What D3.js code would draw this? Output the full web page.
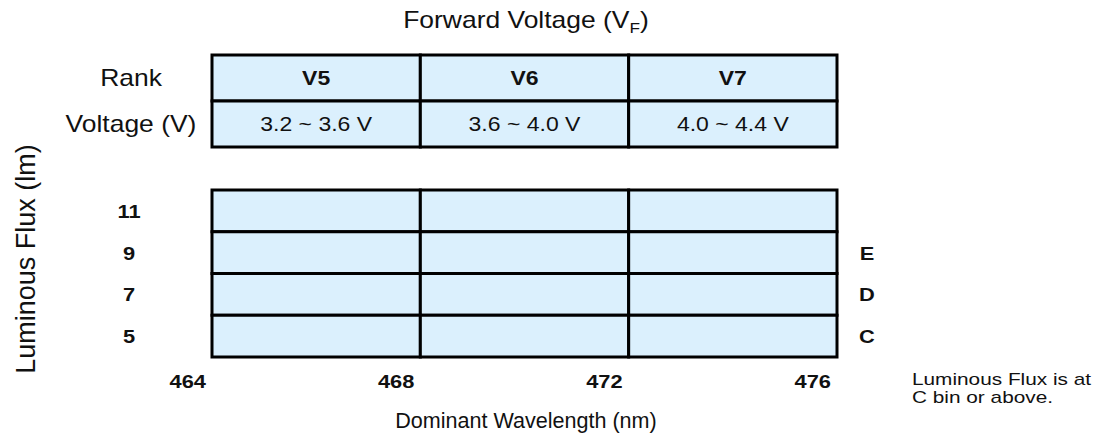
<!DOCTYPE html>
<html>
<head>
<meta charset="utf-8">
<script src="https://cdn.jsdelivr.net/npm/d3@7"></script>
<style>
  html, body { margin: 0; padding: 0; background: #fff; }
  text { font-family: "Liberation Sans", Arial, Helvetica, sans-serif; fill: #111; }
</style>
</head>
<body>
<svg id="chart" width="1099" height="437"></svg>
<script>
// ---- data ----
const voltRanks = ["V5", "V6", "V7"];
const voltRanges = ["3.2 ~ 3.6 V", "3.6 ~ 4.0 V", "4.0 ~ 4.4 V"];
const wavelengthTicks = [464, 468, 472, 476];
const fluxLevels = [11, 9, 7, 5];
const fluxBins = ["", "E", "D", "C"];
const tableRows = ["Rank", "Voltage (V)"];

// ---- layout ----
const SX = 1.15; // horizontal text stretch seen in the reference
const svg = d3.select("#chart");
const fillColor = "#dbf0fd";
const x = d3.scaleLinear().domain([464, 476]).range([212, 837]);
const yTop = d3.scaleBand().domain(tableRows).range([55, 147]);
const yGrid = d3.scaleBand().domain(fluxLevels).range([190, 357]);

function place(sel, fx, fy, sx = SX) {
  sel.attr("transform", (d, i) => `translate(${fx(d, i)},${fy(d, i)}) scale(${sx},1)`);
}

// title
const title = svg.append("text").attr("text-anchor", "middle").style("font-size", "23px");
place(title, () => 526, () => 28);
title.append("tspan").text("Forward Voltage (V");
title.append("tspan").text("F").style("font-size", "15px").attr("dy", 5);
title.append("tspan").text(")").attr("dy", -5);

// top table cells
const topCells = [];
voltRanks.forEach((r, i) => {
  topCells.push({x0: wavelengthTicks[i], x1: wavelengthTicks[i + 1], row: "Rank", text: r, bold: true});
  topCells.push({x0: wavelengthTicks[i], x1: wavelengthTicks[i + 1], row: "Voltage (V)", text: voltRanges[i], bold: false});
});
svg.append("g").selectAll("rect").data(topCells).join("rect")
  .attr("x", d => x(d.x0)).attr("y", d => yTop(d.row))
  .attr("width", d => x(d.x1) - x(d.x0)).attr("height", yTop.bandwidth())
  .attr("fill", fillColor).attr("stroke", "#000").attr("stroke-width", 3);
svg.append("g").selectAll("text").data(topCells).join("text")
  .attr("text-anchor", "middle").attr("dominant-baseline", "central")
  .style("font-size", "20px")
  .style("font-weight", d => d.bold ? "bold" : "normal")
  .text(d => d.text)
  .call(place, d => (x(d.x0) + x(d.x1)) / 2, d => yTop(d.row) + yTop.bandwidth() / 2);
svg.append("g").selectAll("text").data(tableRows).join("text")
  .attr("text-anchor", "middle").attr("dominant-baseline", "central")
  .style("font-size", "23px").text(d => d)
  .call(place, () => 131, d => yTop(d) + yTop.bandwidth() / 2);

// bottom grid cells
const gridCells = [];
fluxLevels.forEach(f => {
  for (let i = 0; i < wavelengthTicks.length - 1; i++) {
    gridCells.push({f, x0: wavelengthTicks[i], x1: wavelengthTicks[i + 1]});
  }
});
svg.append("g").selectAll("rect").data(gridCells).join("rect")
  .attr("x", d => x(d.x0)).attr("y", d => yGrid(d.f))
  .attr("width", d => x(d.x1) - x(d.x0)).attr("height", yGrid.bandwidth())
  .attr("fill", fillColor).attr("stroke", "#000").attr("stroke-width", 3);

// flux labels (left) and bins (right)
svg.append("g").selectAll("text").data(fluxLevels).join("text")
  .attr("text-anchor", "middle").attr("dominant-baseline", "central")
  .style("font-size", "19px").style("font-weight", "bold").text(d => d)
  .call(place, () => 129, d => yGrid(d) + yGrid.bandwidth() / 2);
svg.append("g").selectAll("text").data(fluxLevels.map((f, i) => ({f, b: fluxBins[i]})).filter(d => d.b))
  .join("text")
  .attr("text-anchor", "middle").attr("dominant-baseline", "central")
  .style("font-size", "19px").style("font-weight", "bold").text(d => d.b)
  .call(place, () => 867, d => yGrid(d.f) + yGrid.bandwidth() / 2);

// wavelength ticks
svg.append("g").selectAll("text").data(wavelengthTicks).join("text")
  .attr("text-anchor", "end")
  .style("font-size", "19px").style("font-weight", "bold").text(d => d)
  .call(place, d => x(d) - 6, () => 388);

// axis titles
svg.append("text").attr("text-anchor", "middle")
  .style("font-size", "22px").text("Dominant Wavelength (nm)")
  .call(place, () => 526, () => 428, 0.98);
svg.append("text").attr("transform", "translate(35,259) rotate(-90)")
  .attr("text-anchor", "middle").style("font-size", "27px").text("Luminous Flux (lm)");

// note
const note = svg.append("text").style("font-size", "16px");
place(note, () => 912, () => 385, 1.3);
note.append("tspan").attr("x", 0).text("Luminous Flux is at");
note.append("tspan").attr("x", 0).attr("dy", 18.5).text("C bin or above.");
</script>
</body>
</html>
